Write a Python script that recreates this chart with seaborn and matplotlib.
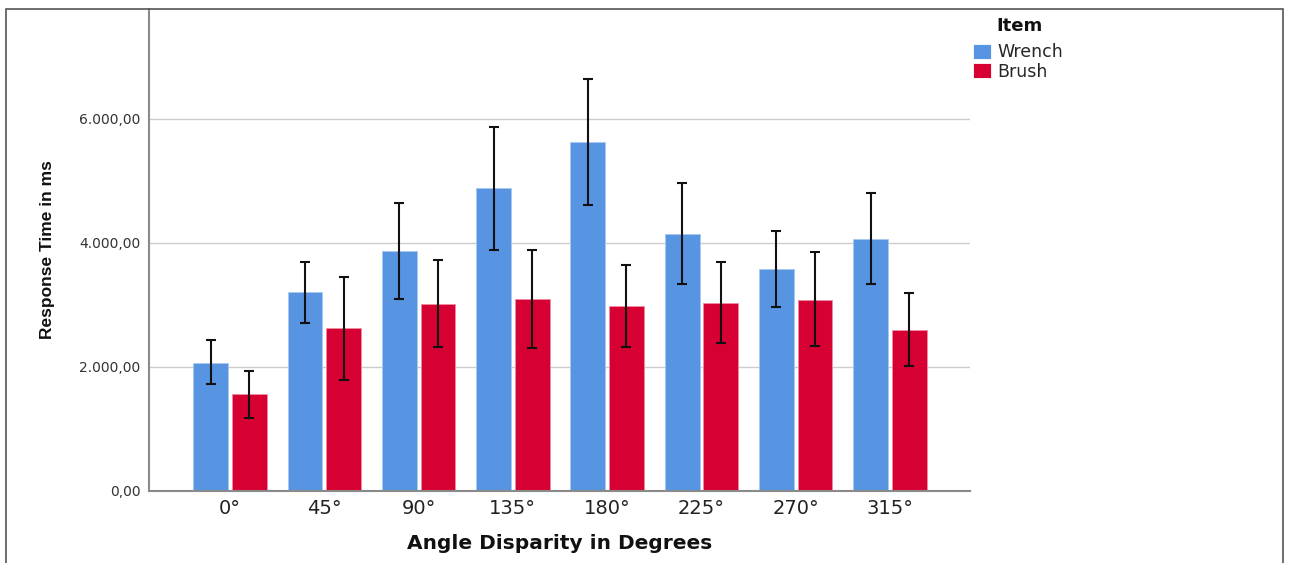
import matplotlib
matplotlib.use("Agg")
import matplotlib.pyplot as plt
from matplotlib.patches import Rectangle
from matplotlib.ticker import FuncFormatter
import seaborn as sns
import pandas as pd
import numpy as np

angles = ["0°", "45°", "90°", "135°", "180°", "225°", "270°", "315°"]
items = ["Wrench", "Brush"]
wrench_mean = [2065, 3205, 3871, 4887, 5629, 4150, 3581, 4065]
wrench_lo = [1726, 2710, 3102, 3887, 4613, 3334, 2968, 3334]
wrench_hi = [2436, 3699, 4650, 5871, 6645, 4963, 4194, 4802]
brush_mean = [1565, 2624, 3016, 3097, 2984, 3037, 3086, 2602]
brush_lo = [1177, 1790, 2318, 2307, 2323, 2387, 2334, 2021]
brush_hi = [1936, 3452, 3721, 3887, 3645, 3689, 3855, 3199]
yticks = [0, 2000, 4000, 6000]

colors = {"Wrench": "#5795E3", "Brush": "#D60032"}

sns.set_theme(style="white")
plt.rcParams["font.family"] = ["DejaVu Sans"]

df = pd.DataFrame({
    "Angle": angles * 2,
    "Item": ["Wrench"] * len(angles) + ["Brush"] * len(angles),
    "RT": wrench_mean + brush_mean,
})

W, H = 1291, 563
fig = plt.figure(figsize=(W / 100, H / 100), dpi=100)
ax = fig.add_axes([149 / W, 1 - 491 / H, (970 - 149) / W, (491 - 9) / H])

sns.barplot(data=df, x="Angle", y="RT", hue="Item", order=angles, hue_order=items,
            palette=colors, saturation=1, errorbar=None, width=0.82, gap=0.1, ax=ax,
            linewidth=0.6)
for cont, it in zip(ax.containers, items):
    ec = "#A9C8F0" if it == "Wrench" else "#EE8CA3"
    for p in cont:
        p.set_edgecolor(ec)

for cont, means, lo, hi in zip(ax.containers, [wrench_mean, brush_mean],
                               [wrench_lo, brush_lo], [wrench_hi, brush_hi]):
    xs = [p.get_x() + p.get_width() / 2 for p in cont]
    m = np.array(means); l = np.array(lo); h = np.array(hi)
    ax.errorbar(xs, m, yerr=[m - l, h - m], fmt="none", ecolor="#111111",
                elinewidth=1.5, capsize=3.6, capthick=1.5, zorder=5)

ax.set_xlim(-0.859, 7.848)
ax.set_ylim(0, 7774)
ax.set_yticks(yticks)
ax.yaxis.set_major_formatter(FuncFormatter(
    lambda v, p: f"{v:,.2f}".replace(",", "X").replace(".", ",").replace("X", ".")))
ax.grid(axis="y", color="#CCCCCC", linewidth=1.0)
ax.set_axisbelow(True)
for s in ["top", "right"]:
    ax.spines[s].set_visible(False)
for s in ["left", "bottom"]:
    ax.spines[s].set_color("#8A8A8A")
    ax.spines[s].set_linewidth(1.5)

ax.tick_params(axis="y", length=3, color="#AAAAAA", pad=3, labelsize=10, labelcolor="#333333")
ax.tick_params(axis="x", length=0, pad=6, labelsize=14, labelcolor="#222222")

ax.set_ylabel("Response Time in ms", color="#111111", fontsize=12.5, fontweight="bold",
              family=["Liberation Sans", "DejaVu Sans"])
ax.yaxis.set_label_coords((55 - 149) / 821, 0.5)
ax.set_xlabel("Angle Disparity in Degrees", fontsize=14.5, fontweight="bold", color="#111111")
ax.xaxis.set_label_coords((560 - 149) / 821, -(534 - 491) / 482)

handles, labels = ax.get_legend_handles_labels()
if ax.get_legend() is not None:
    ax.get_legend().remove()
fig.legend(handles, labels, loc="upper left", bbox_to_anchor=(973 / W, 1 - 43 / H),
           frameon=False, fontsize=12.5, handlelength=1.05, handleheight=0.95,
           handletextpad=0.33, labelspacing=0.1, borderpad=0, borderaxespad=0)
fig.text(996 / W, 1 - 26 / H, "Item", fontsize=13, fontweight="bold",
         ha="left", va="center", color="#111111")

fig.add_artist(Rectangle((6 / W, -0.02), (1283 - 6) / W, 1 - 9 / H + 0.02,
                         transform=fig.transFigure, fill=False,
                         edgecolor="#555555", linewidth=1.2))

fig.savefig("out.png", dpi=100)
